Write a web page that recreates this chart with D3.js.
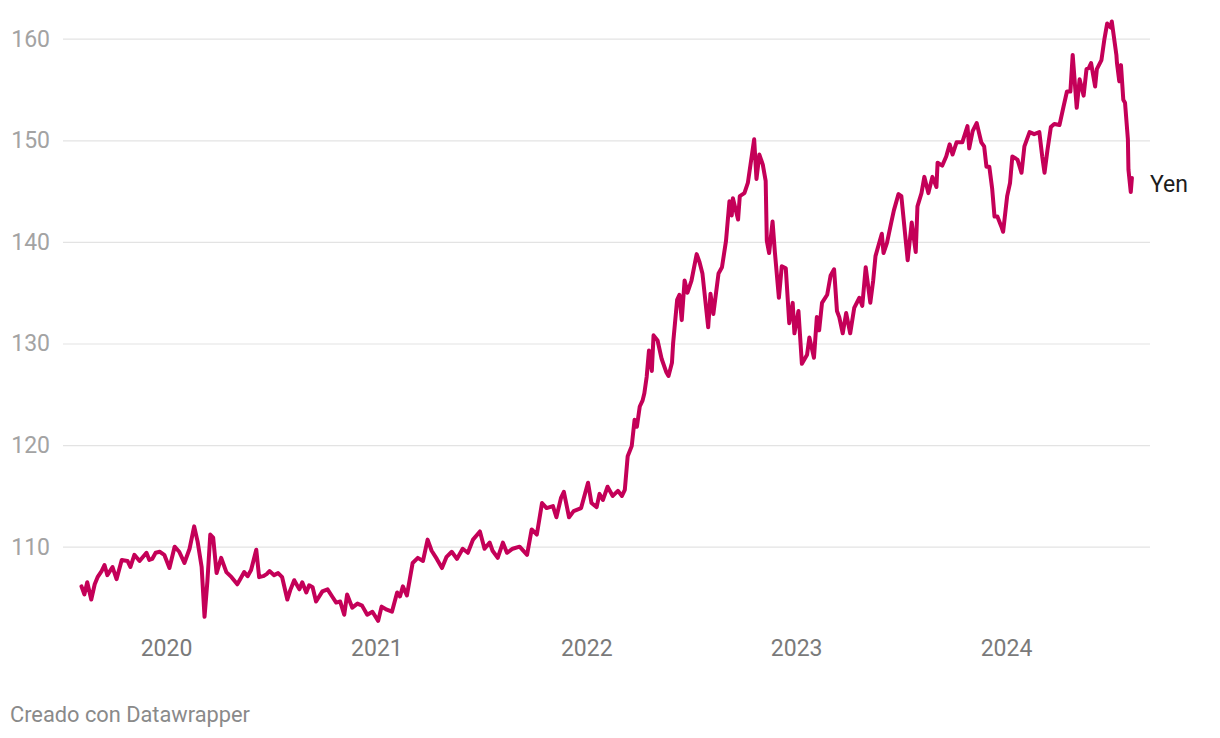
<!DOCTYPE html>
<html>
<head>
<meta charset="utf-8">
<script src="https://cdn.jsdelivr.net/npm/d3@7"></script>
<style>
  body { margin: 0; background: #fff; font-family: Roboto, "Noto Sans", sans-serif; }
  svg { display: block; }
</style>
</head>
<body>
<svg id="chart"></svg>
<script>
// USD/JPY
const dates = [
  "2019-08-07","2019-08-12","2019-08-17","2019-08-24","2019-08-30","2019-09-04","2019-09-11","2019-09-16",
  "2019-09-21","2019-09-30","2019-10-07","2019-10-16","2019-10-26","2019-10-31","2019-11-07","2019-11-16",
  "2019-11-28","2019-12-03","2019-12-08","2019-12-14","2019-12-21","2019-12-29",
  "2020-01-07","2020-01-16","2020-01-24","2020-02-02","2020-02-11","2020-02-19","2020-02-25","2020-03-03",
  "2020-03-08","2020-03-13","2020-03-18","2020-03-23","2020-03-29","2020-04-06","2020-04-15","2020-04-24",
  "2020-05-04","2020-05-10","2020-05-16","2020-05-22","2020-05-28","2020-06-06","2020-06-11","2020-06-18",
  "2020-06-24","2020-06-29","2020-07-07","2020-07-14","2020-07-21","2020-07-30","2020-08-04","2020-08-11",
  "2020-08-20","2020-08-25","2020-09-01","2020-09-06","2020-09-12","2020-09-18","2020-09-29","2020-10-08",
  "2020-10-16","2020-10-23","2020-10-30","2020-11-06","2020-11-11","2020-11-20","2020-11-29","2020-12-07",
  "2020-12-16","2020-12-25",
  "2021-01-04","2021-01-10","2021-01-19","2021-01-28","2021-02-06","2021-02-11","2021-02-16","2021-02-23",
  "2021-02-28","2021-03-05","2021-03-14","2021-03-23","2021-03-31","2021-04-07","2021-04-16","2021-04-25",
  "2021-05-03","2021-05-12","2021-05-21","2021-05-31","2021-06-09","2021-06-18","2021-06-30","2021-07-08",
  "2021-07-17","2021-07-22","2021-07-31","2021-08-09","2021-08-16","2021-08-26","2021-09-07","2021-09-20",
  "2021-09-28","2021-10-07","2021-10-16","2021-10-24","2021-11-04","2021-11-10","2021-11-18","2021-11-23",
  "2021-12-02","2021-12-10","2021-12-23",
  "2022-01-04","2022-01-10","2022-01-19","2022-01-24","2022-01-30","2022-02-07","2022-02-16","2022-02-25",
  "2022-03-04","2022-03-09","2022-03-14","2022-03-21","2022-03-26","2022-03-30","2022-04-04","2022-04-09",
  "2022-04-12","2022-04-16","2022-04-20","2022-04-25","2022-04-28","2022-05-05","2022-05-12","2022-05-20",
  "2022-05-24","2022-05-30","2022-06-01","2022-06-08","2022-06-12","2022-06-16","2022-06-21","2022-06-26",
  "2022-07-03","2022-07-12","2022-07-17","2022-07-22","2022-08-01","2022-08-05","2022-08-10","2022-08-19",
  "2022-08-25","2022-09-01","2022-09-07","2022-09-11","2022-09-13","2022-09-22","2022-09-25","2022-10-03",
  "2022-10-09","2022-10-20","2022-10-24","2022-10-29","2022-11-04","2022-11-09","2022-11-11","2022-11-15",
  "2022-11-21","2022-11-25","2022-12-02","2022-12-07","2022-12-14","2022-12-20","2022-12-26","2022-12-29",
  "2023-01-05","2023-01-11","2023-01-20","2023-01-24","2023-02-01","2023-02-06","2023-02-10","2023-02-15",
  "2023-02-24","2023-03-02","2023-03-08","2023-03-13","2023-03-17","2023-03-23","2023-03-29","2023-04-05",
  "2023-04-12","2023-04-21","2023-04-26","2023-05-02","2023-05-10","2023-05-15","2023-05-19","2023-05-30",
  "2023-06-02","2023-06-08","2023-06-15","2023-06-20","2023-06-28","2023-07-03","2023-07-14","2023-07-21",
  "2023-07-28","2023-07-31","2023-08-07","2023-08-12","2023-08-19","2023-08-26","2023-09-02","2023-09-04",
  "2023-09-12","2023-09-19","2023-09-25","2023-09-30","2023-10-07","2023-10-17","2023-10-26","2023-10-29",
  "2023-11-04","2023-11-11","2023-11-19","2023-11-24","2023-11-28","2023-12-03","2023-12-08","2023-12-12",
  "2023-12-17","2023-12-24","2023-12-27",
  "2024-01-03","2024-01-08","2024-01-12","2024-01-21","2024-01-28","2024-02-02","2024-02-11","2024-02-19",
  "2024-02-28","2024-03-04","2024-03-08","2024-03-13","2024-03-19","2024-03-25","2024-04-03","2024-04-10",
  "2024-04-16","2024-04-22","2024-04-26","2024-05-03","2024-05-08","2024-05-15","2024-05-20","2024-05-24",
  "2024-05-28","2024-06-04","2024-06-07","2024-06-15","2024-06-20","2024-06-25","2024-07-01","2024-07-03",
  "2024-07-11","2024-07-12","2024-07-16","2024-07-19","2024-07-23","2024-07-26","2024-07-31","2024-08-01",
  "2024-08-05","2024-08-07"
];

const yen = [
  106.1,105.3,106.5,104.8,106.3,107.0,107.6,108.2,
  107.2,108.0,106.8,108.7,108.6,108.0,109.2,108.6,
  109.4,108.7,108.8,109.4,109.5,109.2,
  107.9,110.0,109.5,108.4,109.8,112.0,110.5,108.0,
  103.1,106.6,111.2,110.9,107.4,108.9,107.5,107.0,
  106.3,106.9,107.5,107.1,107.7,109.7,107.0,107.1,
  107.3,107.6,107.2,107.4,107.0,104.8,105.7,106.7,
  105.8,106.5,105.5,106.2,106.0,104.6,105.6,105.8,
  105.1,104.5,104.6,103.3,105.3,104.0,104.4,104.2,
  103.3,103.6,
  102.7,104.1,103.8,103.6,105.5,105.1,106.1,105.2,
  106.8,108.4,108.9,108.6,110.7,109.6,108.8,107.9,
  109.0,109.5,108.8,109.8,109.4,110.7,111.5,109.8,
  110.4,109.6,108.9,110.4,109.4,109.8,110.0,109.2,
  111.7,111.2,114.3,113.8,114.0,112.9,114.8,115.4,
  112.9,113.5,113.8,
  116.3,114.3,113.9,115.2,114.6,115.9,115.0,115.5,
  115.0,115.6,118.9,119.9,122.5,121.8,123.8,124.4,
  125.1,126.7,129.3,127.3,130.8,130.3,128.5,127.2,
  126.8,128.1,130.0,134.3,134.8,132.3,136.2,135.0,
  136.2,138.8,138.0,136.9,131.6,134.9,132.9,136.9,
  137.5,140.1,144.0,142.6,144.3,142.2,144.5,144.8,
  145.8,150.1,146.2,148.6,147.6,146.0,140.1,138.9,
  142.0,139.0,134.5,137.6,137.4,132.0,134.0,131.0,
  133.2,128.0,128.9,130.6,128.6,132.6,131.3,134.0,
  134.8,136.7,137.3,133.2,132.6,131.0,133.0,131.0,
  133.5,134.5,133.7,137.5,134.0,136.2,138.6,140.8,
  138.9,139.9,141.8,143.1,144.7,144.5,138.2,141.9,
  139.0,143.5,144.8,146.4,144.8,146.4,145.4,147.8,
  147.5,148.4,149.6,148.6,149.8,149.8,151.4,149.2,
  150.9,151.7,149.8,149.4,147.4,147.4,145.2,142.5,
  142.5,141.5,141.0,
  144.5,145.8,148.4,148.1,146.8,149.4,150.8,150.6,
  150.8,148.4,146.8,149.0,151.3,151.6,151.5,153.3,
  154.8,154.8,158.4,153.2,156.0,154.4,157.0,157.1,
  157.6,155.3,157.0,157.9,159.9,161.5,161.1,161.7,
  158.4,157.6,155.8,157.4,154.0,153.7,150.1,147.1,
  144.9,146.3
];

const yTicks = [110, 120, 130, 140, 150, 160];
const xTicks = ["2020", "2021", "2022", "2023", "2024"];
const seriesName = "Yen";

const width = 1220, height = 738;
const parse = d3.utcParse("%Y-%m-%d");
const data = dates.map((d, i) => ({ date: parse(d), value: yen[i] }));

const svg = d3.select("#chart").attr("width", width).attr("height", height);

const plotLeft = 63, plotRight = 1150;

const x = d3.scaleUtc()
  .domain([parse("2020-01-01"), parse("2024-01-01")])
  .range([166, 1006]);

const y = d3.scaleLinear()
  .domain([110, 160])
  .range([546.7, 38.7]);

// gridlines + y labels
const yAxis = svg.append("g")
  .attr("transform", `translate(${plotLeft},0)`)
  .call(d3.axisLeft(y).tickValues(yTicks).tickSize(-(plotRight - plotLeft)).tickPadding(13));
yAxis.select(".domain").remove();
yAxis.selectAll("line").attr("stroke", "#e3e3e3").attr("stroke-width", 1.2);
yAxis.selectAll("text")
  .attr("fill", "#a3a3a3")
  .style("font-family", "Roboto")
  .style("font-size", "23px");

// x labels (years)
const xAxis = svg.append("g")
  .attr("transform", "translate(0,640)")
  .call(d3.axisBottom(x)
    .tickValues(xTicks.map(t => parse(t + "-01-01")))
    .tickFormat(d3.utcFormat("%Y"))
    .tickSize(0)
    .tickPadding(0));
xAxis.select(".domain").remove();
xAxis.selectAll("text")
  .attr("fill", "#7a7a7a")
  .attr("dy", "0.71em")
  .style("font-family", "Roboto")
  .style("font-size", "23px");

// the line
const line = d3.line()
  .x(d => x(d.date))
  .y(d => y(d.value));

svg.append("path")
  .datum(data)
  .attr("fill", "none")
  .attr("stroke", "#c40058")
  .attr("stroke-width", 4)
  .attr("stroke-linejoin", "round")
  .attr("stroke-linecap", "round")
  .attr("d", line);

// series label at end of line
const last = data[data.length - 1];
svg.append("text")
  .attr("x", 1150)
  .attr("y", y(last.value) + 6)
  .attr("dy", "0.35em")
  .attr("fill", "#1d1d1d")
  .style("font-family", "Roboto")
  .style("font-size", "23px")
  .text(seriesName);

// footer
svg.append("text")
  .attr("x", 10)
  .attr("y", 722)
  .attr("fill", "#8a8a8a")
  .style("font-family", "Roboto")
  .style("font-size", "21.8px")
  .text("Creado con Datawrapper");
</script>
</body>
</html>
